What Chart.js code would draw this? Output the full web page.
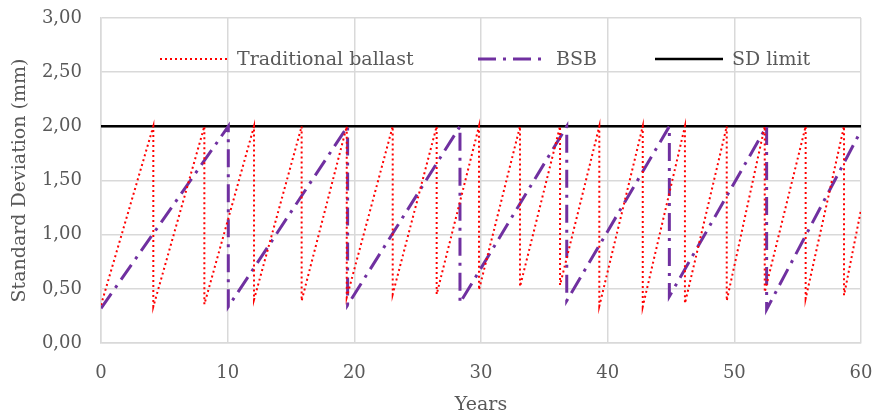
<!DOCTYPE html>
<html>
<head>
<meta charset="utf-8">
<script src="https://cdn.jsdelivr.net/npm/chart.js@4.4.1/dist/chart.umd.min.js"></script>
<style>
  html, body { margin: 0; padding: 0; background: #fff; }
  #wrap { width: 873px; height: 418px; }
</style>
</head>
<body>
<div id="wrap"><canvas id="chart" width="873" height="418"></canvas></div>
<script>
// values
var sdLimit = 2.0
var tradStart = 0.35
var tradPeakYears = [4.13, 8.16, 12.08, 15.84, 19.4, 23.03, 26.5, 29.84, 33.08, 36.24, 39.34, 42.77, 46.1, 49.4, 52.4, 55.63, 58.66]
var tradResetValues = [0.335, 0.357, 0.40, 0.39, 0.42, 0.45, 0.45, 0.49, 0.52, 0.535, 0.34, 0.335, 0.366, 0.39, 0.47, 0.41, 0.44]
var tradEnd = 1.23

var bsbStart = 0.32
var bsbPeakYears = [10.05, 19.47, 28.34, 36.77, 44.87, 52.55]
var bsbResetValues = [0.335, 0.35, 0.37, 0.39, 0.43, 0.31]
var bsbEnd = 1.96

var yearRange = [0, 60]
var labels = ["Traditional ballast", "BSB", "SD limit"]

function sawtooth(start, peaks, resets, end) {
    var pts = [{ x: yearRange[0], y: start }]
    for (var i = 0; i < peaks.length; ++i) {
        pts.push({ x: peaks[i], y: sdLimit })
        pts.push({ x: peaks[i], y: resets[i] })
    }
    pts.push({ x: yearRange[1], y: end })
    return pts
}

var FONT = "'DejaVu Serif', serif"
var GREY = "#595959"

// legend drawn inside the plot area, like the original
var legendInside = {
    id: 'legendInside',
    afterDatasetsDraw(chart) {
        var ctx = chart.ctx
        var area = chart.chartArea
        var y = area.top + 41
        var starts = [59, 377, 554]   // offsets from plot left
        var sampleLen = [68, 69, 68]
        ctx.save()
        chart.data.datasets.forEach((ds, i) => {
            var x0 = area.left + starts[i]
            ctx.beginPath()
            ctx.setLineDash(ds.borderDash || [])
            ctx.strokeStyle = ds.borderColor
            ctx.lineWidth = ds.borderWidth
            ctx.moveTo(x0, y)
            ctx.lineTo(x0 + sampleLen[i], y)
            ctx.stroke()
            ctx.setLineDash([])
            ctx.fillStyle = GREY
            ctx.font = "19px " + FONT
            ctx.textBaseline = 'middle'
            ctx.fillText(ds.label, x0 + sampleLen[i] + 9, y + 1)
        })
        ctx.restore()
    }
}

var ctx = document.getElementById("chart").getContext('2d')
var chart = new Chart(ctx, {
    type: 'scatter',
    data: {
        datasets: [{
            label: labels[0],
            data: sawtooth(tradStart, tradPeakYears, tradResetValues, tradEnd),
            showLine: true,
            borderColor: "#FF0000",
            borderWidth: 2,
            borderDash: [2, 3],
            pointRadius: 0,
            tension: 0
        }, {
            label: labels[1],
            data: sawtooth(bsbStart, bsbPeakYears, bsbResetValues, bsbEnd),
            showLine: true,
            borderColor: "#7030A0",
            borderWidth: 3,
            borderDash: [18, 7, 3, 7],
            pointRadius: 0,
            tension: 0
        }, {
            label: labels[2],
            data: [{ x: yearRange[0], y: sdLimit }, { x: yearRange[1], y: sdLimit }],
            showLine: true,
            borderColor: "#000000",
            borderWidth: 2.5,
            pointRadius: 0,
            tension: 0
        }]
    },
    options: {
        responsive: false,
        animation: false,
        layout: { padding: { top: 18, right: 12, bottom: 2, left: 0 } },
        plugins: {
            legend: { display: false },
            tooltip: { enabled: false }
        },
        scales: {
            x: {
                type: 'linear',
                min: yearRange[0],
                max: yearRange[1],
                afterFit(scale) {
                    scale.height = 73
                    scale.paddingLeft = 0
                    scale.paddingRight = 0
                },
                ticks: {
                    stepSize: 10,
                    padding: 20,
                    color: GREY,
                    font: { family: FONT, size: 18 }
                },
                grid: { color: "#D9D9D9", lineWidth: 1.5, drawTicks: false },
                border: { color: "#D9D9D9", width: 1.5 },
                title: {
                    display: true,
                    text: "Years",
                    color: GREY,
                    font: { family: FONT, size: 19 },
                    padding: { top: 0, bottom: 0 }
                }
            },
            y: {
                min: 0,
                max: 3,
                afterFit(scale) {
                    scale.width = 101
                    scale.paddingTop = 0
                    scale.paddingBottom = 0
                },
                ticks: {
                    stepSize: 0.5,
                    padding: 19,
                    color: GREY,
                    font: { family: FONT, size: 18 },
                    callback: (v) => v.toFixed(2).replace('.', ',')
                },
                grid: { color: "#D9D9D9", lineWidth: 1.5, drawTicks: false },
                border: { color: "#D9D9D9", width: 1.5 },
                title: {
                    display: true,
                    text: "Standard Deviation (mm)",
                    color: GREY,
                    font: { family: FONT, size: 19 },
                    padding: { top: 9, bottom: 0 }
                }
            }
        }
    },
    plugins: [legendInside]
})
</script>
</body>
</html>
